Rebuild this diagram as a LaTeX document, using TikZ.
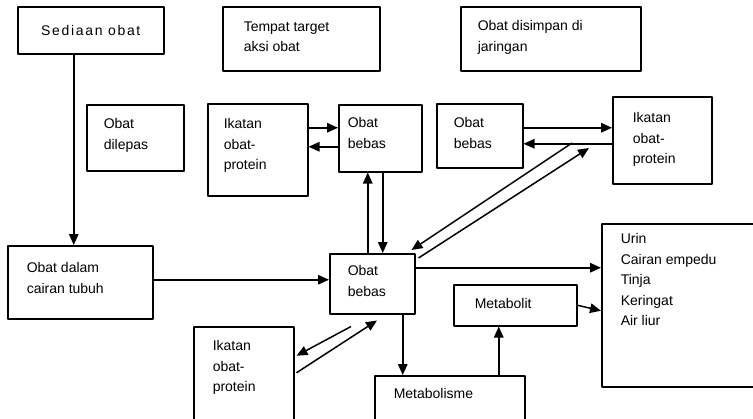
\documentclass[tikz,border=0pt]{standalone}
\usepackage{fontspec}
\setmainfont{Liberation Sans}
\usetikzlibrary{arrows.meta}
\tikzset{
  box/.style={draw, rectangle, inner sep=0pt, anchor=north west},
  txt/.style={inner sep=0pt, anchor=north west, align=left,
    font=\fontsize{14bp}{20.5bp}\selectfont},
}
\begin{document}
\begin{tikzpicture}[>={Triangle[length=11bp,width=9.5bp]},line join=bevel,x=1bp,y=-1bp]
  \pgfsetlinewidth{1.5bp}
  \useasboundingbox (0,0) rectangle (753,418);
%%
  % Node: Sediaan obat
  \node[box, minimum width=146bp, minimum height=47bp,
    font=\fontsize{14bp}{20.5bp}\selectfont\addfontfeature{LetterSpace=12}] (sediaan) at (17,6) {Sediaan obat};
  % Node: Tempat target
  \node[box, minimum width=157bp, minimum height=64bp] (tempat) at (222,6) {};
  \node[txt] (tempat-t) at (243,21) {Tempat target\\aksi obat};
  % Node: Obat disimpan
  \node[box, minimum width=180bp, minimum height=64bp] (disimpan) at (460,6) {};
  \node[txt] (disimpan-t) at (477,20) {Obat disimpan di\\jaringan};
  % Node: Obat dilepas
  \node[box, minimum width=97bp, minimum height=66bp] (dilepas) at (86,104) {};
  \node[txt] (dilepas-t) at (103,118) {Obat\\dilepas};
  % Node: Ikatan (atas kiri)
  \node[box, minimum width=100bp, minimum height=92bp] (ikatanA) at (207,103) {};
  \node[txt] (ikatanA-t) at (223,118) {Ikatan\\obat-\\protein};
  % Node: Obat bebas (atas)
  \node[box, minimum width=83bp, minimum height=67bp] (bebasA) at (338,104) {};
  \node[txt] (bebasA-t) at (347,117) {Obat\\bebas};
  % Node: Obat bebas (jaringan)
  \node[box, minimum width=86bp, minimum height=64bp] (bebasB) at (436,103) {};
  \node[txt] (bebasB-t) at (453,117) {Obat\\bebas};
  % Node: Ikatan (kanan)
  \node[box, minimum width=99bp, minimum height=87bp] (ikatanB) at (612,96) {};
  \node[txt] (ikatanB-t) at (632,112) {Ikatan\\obat-\\protein};
  % Node: Obat dalam cairan tubuh
  \node[box, minimum width=145bp, minimum height=73bp] (cairan) at (7,245) {};
  \node[txt] (cairan-t) at (26,262) {Obat dalam\\cairan tubuh};
  % Node: Obat bebas (tengah)
  \node[box, minimum width=85bp, minimum height=60bp] (bebasC) at (329,253) {};
  \node[txt] (bebasC-t) at (347,265) {Obat\\bebas};
  % Node: Ikatan (bawah)
  \node[box, minimum width=100bp, minimum height=95bp] (ikatanC) at (193,326) {};
  \node[txt] (ikatanC-t) at (212,340) {Ikatan\\obat-\\protein};
  % Node: Metabolit
  \node[box, minimum width=123bp, minimum height=41bp] (metabolit) at (453,284) {};
  \node[txt] (metabolit-t) at (474,298) {Metabolit};
  % Node: Metabolisme
  \node[box, minimum width=150bp, minimum height=46bp] (metabolisme) at (374,375) {};
  \node[txt] (metabolisme-t) at (393,388) {Metabolisme};
  % Node: Urin ...
  \node[box, minimum width=155bp, minimum height=163bp] (ekskresi) at (601,223) {};
  \node[txt] (ekskresi-t) at (620,233) {Urin\\Cairan empedu\\Tinja\\Keringat\\Air liur};
%%
  \coordinate (ikB-out) at (572,143);
  \coordinate (ikB-in) at (589,148);
  % Edge: Sediaan obat -> Obat dalam cairan tubuh
  \draw[->] ([xshift=-17bp]sediaan.south) -- ([xshift=-17bp]sediaan.south |- cairan.north);
  % Edge: Obat dalam cairan tubuh -> Obat bebas
  \draw[->] ([yshift=2.5bp]cairan.east) -- ([yshift=2.5bp]cairan.east -| bebasC.west);
  % Edge: Ikatan -> Obat bebas (atas)
  \draw[->] ([yshift=22bp]ikatanA.east) -- ([yshift=22bp]ikatanA.east -| bebasA.west);
  % Edge: Obat bebas (atas) -> Ikatan
  \draw[->] ([yshift=3bp]ikatanA.east -| bebasA.west) -- ([yshift=3bp]ikatanA.east);
  % Edge: Obat bebas (tengah) -> Obat bebas (atas)
  \draw[->] ([xshift=-4.5bp]bebasC.north) -- ([xshift=-4.5bp]bebasC.north |- bebasA.south);
  % Edge: Obat bebas (atas) -> Obat bebas (tengah)
  \draw[->] ([xshift=2.5bp]bebasA.south) -- ([xshift=2.5bp]bebasA.south |- bebasC.north);
  % Edge: Obat bebas (jaringan) -> Ikatan
  \draw[->] ([yshift=8bp]bebasB.east) -- ([yshift=8bp]bebasB.east -| ikatanB.west);
  % Edge: Ikatan -> Obat bebas (jaringan)
  \draw[->] ([yshift=-8bp]bebasB.east -| ikatanB.west) -- ([yshift=-8bp]bebasB.east);
  % Edge: jaringan -> Obat bebas (tengah)
  \draw[->] (ikB-out) -- ([shift={(-4,-3)}]bebasC.north east);
  % Edge: Obat bebas (tengah) -> jaringan
  \draw[->] ([shift={(3,5)}]bebasC.north east) -- (ikB-in);
  % Edge: Obat bebas (tengah) -> Ikatan (bawah)
  \draw[->] ([shift={(22,12)}]bebasC.south west) -- ([shift={(2,-18.5)}]ikatanC.east);
  % Edge: Ikatan (bawah) -> Obat bebas (tengah)
  \draw[->] ([shift={(2,-1.5)}]ikatanC.east) -- ([shift={(48,6)}]bebasC.south west);
  % Edge: Obat bebas (tengah) -> Urin ...
  \draw[->] ([yshift=16bp]bebasC.east) -- ([yshift=16bp]bebasC.east -| ekskresi.west);
  % Edge: Metabolit -> Urin ...
  \draw[->] (metabolit.east) -- ([yshift=-5.5bp]ekskresi.west);
  % Edge: Obat bebas (tengah) -> Metabolisme
  \draw[->] ([xshift=30.5bp]bebasC.south) -- ([xshift=30.5bp]bebasC.south |- metabolisme.north);
  % Edge: Metabolisme -> Metabolit
  \draw[->] ([xshift=-16.5bp]metabolit.south |- metabolisme.north) -- ([xshift=-16.5bp]metabolit.south);
%
\end{tikzpicture}
\end{document}
